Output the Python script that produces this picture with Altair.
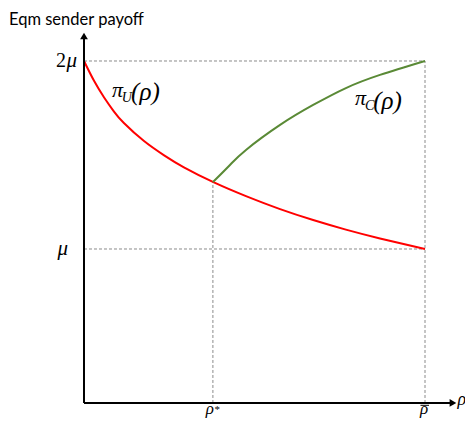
import altair as alt
import pandas as pd

# ---- data (rho in units of rho_bar, payoff in units of mu) ----
rho_u = [0, 0.029, 0.059, 0.088, 0.117, 0.176, 0.235, 0.293, 0.381, 0.475, 0.575, 0.672, 0.768, 0.868, 1.0]
pi_u = [2.0, 1.896, 1.806, 1.731, 1.670, 1.574, 1.498, 1.434, 1.354, 1.281, 1.212, 1.154, 1.103, 1.056, 1.0]
rho_c = [0.378, 0.428, 0.475, 0.575, 0.672, 0.768, 0.868, 1.0]
pi_c = [1.356, 1.447, 1.527, 1.660, 1.766, 1.856, 1.926, 2.0]

rho_star = 0.378
rho_bar = 1.0
mu = 1.0
two_mu = 2.0
axis_bottom = 0.181
axis_top_tip = 2.133
axis_right_tip = 1.082

X_DOM = [-0.22287, 1.11730]
Y_DOM = [0.10106, 2.28191]

W, H = 457, 410

xs = alt.Scale(domain=X_DOM, nice=False, zero=False)
ys = alt.Scale(domain=Y_DOM, nice=False, zero=False)

def X(field):
    return alt.X(field, type="quantitative", scale=xs, axis=None)

def Y(field):
    return alt.Y(field, type="quantitative", scale=ys, axis=None)

# dashed guides
guides = pd.DataFrame({
    "x": [0, 0, rho_bar, rho_star],
    "x2": [rho_bar, rho_bar, rho_bar, rho_star],
    "y": [two_mu, mu, axis_bottom, axis_bottom],
    "y2": [two_mu, mu, two_mu, 1.356],
})
guide_layer = alt.Chart(guides).mark_rule(
    color="#8a8a8a", strokeWidth=1, strokeDash=[3, 2]
).encode(x=X("x"), x2="x2", y=Y("y"), y2="y2")

# axes
axes = pd.DataFrame({
    "x": [0, 0],
    "x2": [0, axis_right_tip],
    "y": [axis_bottom, axis_bottom],
    "y2": [axis_top_tip, axis_bottom],
})
axis_layer = alt.Chart(axes).mark_rule(color="black", strokeWidth=2).encode(
    x=X("x"), x2="x2", y=Y("y"), y2="y2"
)
arrows = pd.DataFrame({
    "x": [0, axis_right_tip],
    "y": [axis_top_tip, axis_bottom],
    "shape": ["triangle-up", "triangle-right"],
})
arrow_layer = alt.Chart(arrows).mark_point(
    filled=True, color="black", size=60, opacity=1
).encode(x=X("x"), y=Y("y"), shape=alt.Shape("shape:N", scale=None, legend=None))

# curves
df_u = pd.DataFrame({"rho": rho_u, "pi": pi_u})
df_c = pd.DataFrame({"rho": rho_c, "pi": pi_c})
red = alt.Chart(df_u).mark_line(color="#ff0000", strokeWidth=2, interpolate="natural").encode(
    x=X("rho"), y=Y("pi"))
green = alt.Chart(df_c).mark_line(color="#5a8a36", strokeWidth=2, interpolate="natural").encode(
    x=X("rho"), y=Y("pi"))

# macron over rho-bar
bar_df = pd.DataFrame({"x": [0.9868], "x2": [1.0117], "y": [0.1686]})
bar_layer = alt.Chart(bar_df).mark_rule(color="black", strokeWidth=1).encode(
    x=X("x"), x2="x2", y=Y("y"))

# texts
SERIF = "Liberation Serif"

def text_layer(df, align, baseline, size, font=SERIF, style="italic"):
    return alt.Chart(df).mark_text(
        align=align, baseline=baseline, fontSize=size, font=font, fontStyle=style, color="black"
    ).encode(x=X("x"), y=Y("y"), text="t:N")

title_df = pd.DataFrame({"x": [-0.2199], "y": [2.1941], "t": ["Eqm sender payoff"]})
title_layer = text_layer(title_df, "left", "alphabetic", 16.5, font="Lato", style="normal")

two_df = pd.DataFrame({"x": [-0.053], "y": [two_mu], "t": ["2"]})
two_layer = text_layer(two_df, "right", "middle", 20, style="normal")
mu_df = pd.DataFrame({"x": [-0.0205, -0.047], "y": [two_mu, mu], "t": ["μ", "μ"]})
mu_layer = text_layer(mu_df, "right", "middle", 21)

pi_df = pd.DataFrame({
    "x": [0.082, 0.795],
    "y": [1.809, 1.766],
    "t": ["π", "π"],
})
pi_layer = text_layer(pi_df, "left", "alphabetic", 22)

rho_df = pd.DataFrame({
    "x": [0.357, 0.985],
    "y": [0.1197, 0.1197],
    "t": ["ρ", "ρ"],
})
rho_layer = text_layer(rho_df, "left", "alphabetic", 17)

rho_axis_df = pd.DataFrame({"x": [1.0953], "y": [0.170], "t": ["ρ"]})
rho_axis_layer = text_layer(rho_axis_df, "left", "alphabetic", 18)

paren_df = pd.DataFrame({
    "x": [0.138, 0.848],
    "y": [1.790, 1.745],
    "t": ["(ρ)", "(ρ)"],
})
paren_layer = text_layer(paren_df, "left", "alphabetic", 25)

sub_df = pd.DataFrame({
    "x": [0.111, 0.824],
    "y": [1.782, 1.739],
    "t": ["U", "C"],
})
sub_layer = text_layer(sub_df, "left", "alphabetic", 14)

star_df = pd.DataFrame({"x": [0.383], "y": [0.1277], "t": ["*"]})
star_layer = text_layer(star_df, "left", "alphabetic", 11, style="normal")

chart = alt.layer(
    guide_layer, red, green, axis_layer, arrow_layer, bar_layer,
    title_layer, two_layer, mu_layer, pi_layer, rho_layer, rho_axis_layer,
    paren_layer, sub_layer, star_layer,
).properties(
    width=W, height=H, autosize=alt.AutoSizeParams(type="none"), padding=0
).configure_view(stroke=None)

chart.save("out.html", embed_options={"renderer": "svg", "actions": False})
